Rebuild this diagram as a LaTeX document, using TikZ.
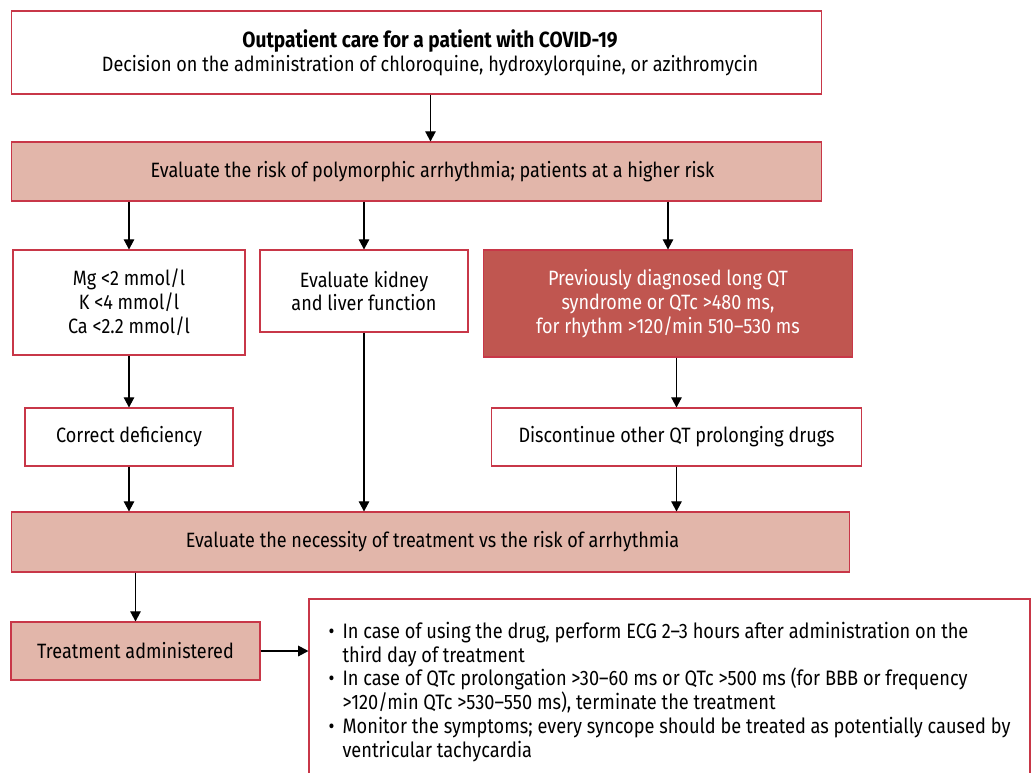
\documentclass[tikz,border=0pt]{standalone}
\usepackage{fontspec}
\setmainfont{Fira Sans}[FakeStretch=0.87]
\usepackage{tikz}
\usetikzlibrary{arrows.meta}
\definecolor{boxred}{RGB}{200,55,72}
\definecolor{bandpink}{RGB}{226,182,170}
\definecolor{qtred}{RGB}{192,86,80}
\newcommand{\bulitem}{\makebox[8pt][l]{\textbullet}}
\newcommand{\bulcont}{\hspace*{8pt}}

\begin{document}
\begin{tikzpicture}[x=0.02cm, y=-0.02cm]
  \tikzstyle{every node}=[rectangle, draw=boxred, line width=0.6pt, align=center, inner sep=0pt, font=\fontsize{11.8}{13.6}\selectfont]
  \tikzstyle{band}=[fill=bandpink]
  \tikzstyle{arr}=[-{Triangle[length=5.8pt,width=6pt]}, line width=0.65pt]
  \useasboundingbox (0,0) rectangle (1035,772);

  \node (top) at (416.5,52.5) [minimum width=16.22cm, minimum height=1.66cm]
    {\hspace*{0.54cm}{\fontsize{12.5}{13.6}\selectfont\bfseries Outpatient care for a patient with COVID-19}\\
     \hspace*{0.54cm}Decision on the administration of chloroquine, hydroxylorquine, or azithromycin};
  \node (risk) at (416.5,171.5) [band, minimum width=16.22cm, minimum height=1.18cm]
    {\hspace*{0.64cm}Evaluate the risk of polymorphic arrhythmia; patients at a higher risk};

  \node (mg) at (129,302.5) [minimum width=4.64cm, minimum height=2.10cm]
    {Mg <2 mmol/l\\K <4 mmol/l\\Ca <2.2 mmol/l};
  \node (kid) at (364,291) [minimum width=4.16cm, minimum height=1.64cm]
    {Evaluate kidney\\and liver function};
  \node (qt) at (668,303.5) [fill=qtred, text=white, minimum width=7.40cm, minimum height=2.14cm]
    {Previously diagnosed long QT\\syndrome or QTc >480 ms,\\for rhythm >120/min 510--530 ms};

  \node (corr) at (129,437) [minimum width=4.16cm, minimum height=1.16cm] {Correct deficiency};
  \node (disc) at (676.5,437) [minimum width=7.42cm, minimum height=1.16cm] {Discontinue other QT prolonging drugs};

  \node (nec) at (430.5,542) [band, minimum width=16.78cm, minimum height=1.20cm]
    {\hspace*{0.08cm}Evaluate the necessity of treatment vs the risk of arrhythmia};
  \node (treat) at (135.5,651) [band, minimum width=4.98cm, minimum height=1.16cm] {Treatment administered};

  % bullet list, box runs off the lower edge
  \node (mon) at (669.5,692) [draw=boxred, line width=0.75pt, minimum width=14.42cm, minimum height=3.72cm, align=left,
      font=\fontsize{11.9}{13.6}\selectfont]
    {\bulitem In case of using the drug, perform ECG 2--3 hours after administration on the\\
     \bulcont third day of treatment\\
     \bulitem In case of QTc prolongation >30--60 ms or QTc >500 ms (for BBB or frequency\\
     \bulcont >120/min QTc >530--550 ms), terminate the treatment\\
     \bulitem Monitor the symptoms; every syncope should be treated as potentially caused by\\
     \bulcont ventricular tachycardia};

  \draw[arr] (top.south -| nec.north) -- (risk.north -| nec.north);
  \draw[arr] (risk.south -| mg.north) -- (mg.north);
  \draw[arr] (risk.south -| kid.north) -- (kid.north);
  \draw[arr] (risk.south -| qt.north) -- (qt.north);
  \draw[arr] (mg.south) -- (corr.north);
  \draw[arr] (qt.south -| disc.north) -- (disc.north);
  \draw[arr] (corr.south) -- (nec.north -| corr.south);
  \draw[arr] (kid.south) -- (nec.north -| kid.south);
  \draw[arr] (disc.south) -- (nec.north -| disc.south);
  \draw[arr] (nec.south -| treat.north) -- (treat.north);
  \draw[arr] (treat.east) -- (treat.east -| mon.west);
\end{tikzpicture}
\end{document}
